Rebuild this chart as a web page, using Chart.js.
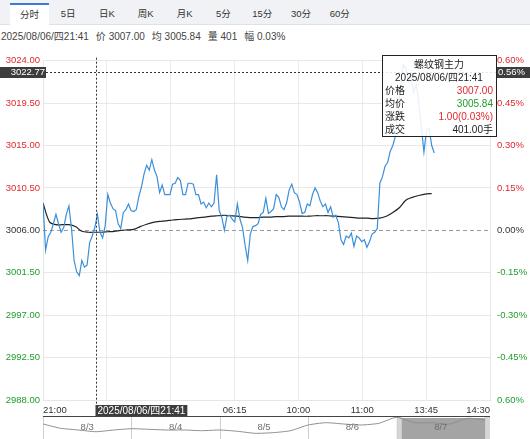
<!DOCTYPE html>
<html>
  <head>
    <meta charset="UTF-8" />
    <title>螺纹钢主力 分时</title>
    <script src="https://cdn.jsdelivr.net/npm/chart.js"></script>
    <style>
      body {
        margin: 0;
        font-family: "Liberation Sans", Arial, "Noto Sans CJK SC", sans-serif;
        background: #fff;
      }
      #wrap {
        position: relative;
        width: 530px;
        height: 439px;
        overflow: hidden;
      }
      #tabs {
        position: absolute;
        left: 0;
        top: 0;
        width: 530px;
        height: 25px;
        box-sizing: border-box;
        padding-left: 10px;
        background: #f0f2f5;
        border-bottom: 1px solid #dde1e8;
        display: flex;
        align-items: flex-start;
      }
      #tabs span {
        width: 38.8px;
        margin-top: 3px;
        text-align: center;
        font-size: 9.5px;
        line-height: 22px;
        color: #333;
      }
      #tabs span.on {
        background: #fff;
        border-top: 2px solid #3b7bd4;
        line-height: 20px;
        height: 21px;
      }
      #info {
        position: absolute;
        left: 1px;
        top: 30px;
        font-size: 10px;
        line-height: 14px;
        color: #444;
        white-space: nowrap;
      }
      #info span {
        margin-right: 7px;
      }
      #tip {
        position: absolute;
        left: 382px;
        top: 55px;
        width: 115px;
        height: 82px;
        box-sizing: border-box;
        border: 1px solid #222;
        background: rgba(255, 255, 255, 0.88);
        padding: 2px 3px 0 2px;
        font-size: 10px;
        line-height: 13px;
        color: #222;
      }
      #tip .c {
        text-align: center;
      }
      #tip .r {
        display: flex;
        justify-content: space-between;
      }
      canvas {
        position: absolute;
        left: 0;
      }
    </style>
  </head>
  <body>
    <div id="wrap">
      <div id="tabs">
        <span class="on">分时</span><span>5日</span><span>日K</span><span>周K</span><span>月K</span
        ><span>5分</span><span>15分</span><span>30分</span><span>60分</span>
      </div>
      <div id="info">
        <span>2025/08/06/四21:41</span><span>价 3007.00</span><span>均 3005.84</span><span>量 401</span
        ><span>幅 0.03%</span>
      </div>
      <canvas id="main" width="530" height="370" style="top: 48px"></canvas>
      <canvas id="nav" width="530" height="23" style="top: 416px"></canvas>
      <div id="tip">
        <div class="c">螺纹钢主力</div>
        <div class="c">2025/08/06/四21:41</div>
        <div class="r"><span>价格</span><span style="color: #e0282e">3007.00</span></div>
        <div class="r"><span>均价</span><span style="color: #1f9d2a">3005.84</span></div>
        <div class="r"><span>涨跌</span><span style="color: #e0282e">1.00(0.03%)</span></div>
        <div class="r"><span>成交</span><span>401.00手</span></div>
      </div>
    </div>
  </body>
  <script>
    // session: 345 trading minutes, axis split in 7 equal parts
    const SESSION_MINUTES = 345;
    const xLabels = ["21:00", "", "", "06:15", "10:00", "11:00", "13:45", "14:30"];

    // price every 2 minutes, average price every 5 minutes
    const PRICE_STEP = 2;
    const prices = [
      3008.9, 3003.9, 3005.3, 3005.8, 3006.7, 3007.7, 3006.7, 3005.8, 3006.3, 3007.7,
      3008.6, 3006.2, 3002.8, 3001.6, 3001.2, 3002.8, 3002.1, 3002.3, 3004.7, 3005.4,
      3006.3, 3007.7, 3005.8, 3005.2, 3006.5, 3009.8, 3008.9, 3008.3, 3008.1, 3006.7,
      3006.2, 3007.9, 3008.2, 3008.8, 3008.1, 3008.0, 3008.2, 3009.6, 3010.6, 3012.0,
      3012.9, 3012.4, 3013.5, 3012.4, 3011.7, 3010.0, 3010.8, 3009.8, 3009.8, 3009.8,
      3010.9, 3011.0, 3011.6, 3011.3, 3009.8, 3009.8, 3011.0, 3011.0, 3010.9, 3009.8,
      3009.8, 3008.8, 3009.0, 3008.4, 3008.9, 3008.5, 3008.9, 3011.9, 3008.1, 3007.4,
      3006.0, 3007.5, 3007.6, 3007.2, 3006.9, 3008.8, 3007.2, 3006.3, 3004.4, 3002.8,
      3005.6, 3006.4, 3006.5, 3006.7, 3007.7, 3007.9, 3009.4, 3007.8, 3008.0, 3008.3,
      3009.8, 3009.5, 3008.5, 3008.2, 3008.9, 3010.3, 3010.9, 3010.0, 3009.8, 3009.0,
      3007.8, 3007.9, 3008.8, 3008.6, 3009.8, 3010.5, 3010.0, 3009.1, 3008.5, 3008.8,
      3007.9, 3008.5, 3007.4, 3007.6, 3006.8, 3005.0, 3004.5, 3005.4, 3005.2, 3005.7,
      3004.3, 3005.4, 3005.2, 3004.8, 3005.0, 3004.2, 3004.8, 3005.6, 3005.8, 3006.2,
      3011.0, 3011.7, 3012.8, 3013.2, 3014.4, 3015.0, 3016.0, 3018.7, 3021.3, 3023.6,
      3023.2, 3021.8, 3022.4, 3020.6, 3021.5, 3019.6, 3017.0, 3014.3, 3016.6, 3016.8,
      3015.0, 3014.2,
    ];
    const AVG_STEP = 5;
    const avgPrices = [
      3008.9, 3006.9, 3006.6, 3006.6, 3006.6, 3006.4, 3005.9, 3005.8, 3005.8, 3005.8,
      3005.85, 3005.9, 3006.0, 3006.05, 3006.1, 3006.4, 3006.65, 3006.85, 3006.95, 3007.0,
      3007.1, 3007.15, 3007.2, 3007.25, 3007.35, 3007.4, 3007.5, 3007.55, 3007.6, 3007.55,
      3007.5, 3007.4, 3007.35, 3007.35, 3007.4, 3007.4, 3007.45, 3007.45, 3007.5, 3007.5,
      3007.5, 3007.5, 3007.55, 3007.55, 3007.55, 3007.5, 3007.45, 3007.4, 3007.35, 3007.3,
      3007.3, 3007.25, 3007.3, 3007.5, 3007.9, 3008.4, 3009.2, 3009.5, 3009.7, 3009.85,
      3009.9,
    ];

    const PREV_CLOSE = 3006;
    const priceTicks = [2988, 2992.5, 2997, 3001.5, 3006, 3010.5, 3015, 3019.5, 3024];
    const pctLabels = ["0.60%", "-0.45%", "-0.30%", "-0.15%", "0.00%", "0.15%", "0.30%", "0.45%", "0.60%"];

    // crosshair state
    const CROSS_MINUTE = 41;
    const CROSS_PRICE = 3022.77;
    const CROSS_TIME = "2025/08/06/四21:41";

    // navigator (5 days)
    const navDays = ["8/3", "8/4", "8/5", "8/6", "8/7"];
    const NAV_STEP = 0.2;
    const navPrices = [
      3014, 3005.4, 3002, 2998.6, 3002, 3004.6, 3003.4, 3002, 3002, 3000.6,
      3002, 2999.4, 2995.4, 2996.6, 3000.6, 3012, 3016.6, 3014, 3012, 3015.4,
      3027.4, 3016.6, 3016.6, 3014, 3025.4, 3022,
    ];
    const SELECT_FROM = 4;
    const SELECT_TO = 5;

    const RED = "#e0282e";
    const GREEN = "#1f9d2a";
    const FONT = '"Liberation Sans", Arial, "Noto Sans CJK SC", sans-serif';

    function sideColor(v) {
      if (v > PREV_CLOSE) return RED;
      if (v < PREV_CLOSE) return GREEN;
      return "#333";
    }

    const overlay = {
      id: "overlay",
      beforeDatasetsDraw(chart) {
        const { ctx, chartArea: a, scales } = chart;
        const py = Math.round(scales.y.getPixelForValue(PREV_CLOSE)) + 0.5;
        ctx.save();
        ctx.strokeStyle = "#9a9a9a";
        ctx.lineWidth = 1;
        ctx.setLineDash([4, 3]);
        ctx.beginPath();
        ctx.moveTo(a.left, py);
        ctx.lineTo(a.right, py);
        ctx.stroke();
        ctx.restore();
      },
      afterDraw(chart) {
        const { ctx, chartArea: a, scales } = chart;
        const cx = Math.round(scales.x.getPixelForValue(CROSS_MINUTE)) + 0.5;
        const cy = Math.round(scales.y.getPixelForValue(CROSS_PRICE)) + 0.5;
        ctx.save();
        ctx.strokeStyle = "#333";
        ctx.lineWidth = 1;
        ctx.setLineDash([2, 2]);
        ctx.beginPath();
        ctx.moveTo(cx, a.top - 3);
        ctx.lineTo(cx, a.bottom + 5);
        ctx.moveTo(a.left + 3, cy);
        ctx.lineTo(a.right + 6, cy);
        ctx.stroke();
        ctx.setLineDash([]);

        ctx.font = "9.5px " + FONT;
        ctx.textBaseline = "middle";
        // left price box
        ctx.fillStyle = "#3d3d3d";
        ctx.fillRect(0, cy - 5.5, a.left + 3, 11);
        ctx.fillStyle = "#fff";
        ctx.textAlign = "right";
        ctx.fillText(CROSS_PRICE.toFixed(2), a.left + 2, cy);
        // right percent box
        const pct = ((CROSS_PRICE - PREV_CLOSE) / PREV_CLOSE) * 100;
        ctx.fillStyle = "#3d3d3d";
        ctx.fillRect(a.right + 6, cy - 5.5, chart.width - a.right - 6, 11);
        ctx.fillStyle = "#fff";
        ctx.textAlign = "left";
        ctx.fillText(pct.toFixed(2) + "%", a.right + 8, cy);
        // bottom time box
        ctx.font = "10px " + FONT;
        const w = ctx.measureText(CROSS_TIME).width + 4;
        ctx.fillStyle = "#3d3d3d";
        ctx.fillRect(cx - 1, a.bottom + 5, w, 12);
        ctx.fillStyle = "#fff";
        ctx.fillText(CROSS_TIME, cx + 1, a.bottom + 11.5);
        ctx.restore();
      },
    };

    new Chart(document.getElementById("main"), {
      type: "line",
      data: {
        datasets: [
          {
            label: "价格",
            data: prices.map((v, i) => ({ x: i * PRICE_STEP, y: v })),
            borderColor: "#3b8fd9",
            borderWidth: 1.2,
            pointRadius: 0,
            tension: 0,
          },
          {
            label: "均价",
            data: avgPrices.map((v, i) => ({ x: i * AVG_STEP, y: v })),
            borderColor: "#222",
            borderWidth: 1.2,
            pointRadius: 0,
            tension: 0.3,
          },
        ],
      },
      options: {
        responsive: false,
        animation: false,
        events: [],
        layout: { padding: { top: 8, left: 0, right: 0, bottom: 0 } },
        plugins: { legend: { display: false }, tooltip: { enabled: false } },
        scales: {
          x: {
            type: "linear",
            min: 0,
            max: SESSION_MINUTES,
            afterBuildTicks: (s) => {
              s.ticks = xLabels.map((_, k) => ({ value: (SESSION_MINUTES / (xLabels.length - 1)) * k }));
            },
            afterFit: (s) => {
              s.height = 18;
            },
            ticks: {
              align: "inner",
              padding: 5,
              maxRotation: 0,
              autoSkip: false,
              color: "#333",
              font: { size: 9.5, family: FONT },
              callback: (v, i) => xLabels[i],
            },
            grid: { color: "#ececec", drawTicks: false },
            border: { color: "#e6e6e6" },
          },
          y: {
            position: "left",
            min: priceTicks[0],
            max: priceTicks[priceTicks.length - 1],
            afterBuildTicks: (s) => {
              s.ticks = priceTicks.map((v) => ({ value: v }));
            },
            afterFit: (s) => {
              s.width = 43;
            },
            ticks: {
              padding: 3,
              autoSkip: false,
              font: { size: 9.5, family: FONT },
              color: (c) => sideColor(c.tick.value),
              callback: (v) => v.toFixed(2),
            },
            grid: {
              drawTicks: false,
              color: (c) => (c.tick && c.tick.value === PREV_CLOSE ? "rgba(0,0,0,0)" : "#e8e8e8"),
            },
            border: { color: "#e6e6e6" },
          },
          y2: {
            position: "right",
            min: priceTicks[0],
            max: priceTicks[priceTicks.length - 1],
            afterBuildTicks: (s) => {
              s.ticks = priceTicks.map((v) => ({ value: v }));
            },
            afterFit: (s) => {
              s.width = 40;
            },
            ticks: {
              padding: 7,
              autoSkip: false,
              font: { size: 9.5, family: FONT },
              color: (c) => sideColor(c.tick.value),
              callback: (v, i) => pctLabels[i],
            },
            grid: { display: false, drawTicks: false },
            border: { color: "#e6e6e6" },
          },
        },
      },
      plugins: [overlay],
    });

    const navDecor = {
      id: "navDecor",
      beforeDatasetsDraw(chart) {
        const { ctx, chartArea: a, scales } = chart;
        const x = scales.x;
        ctx.save();
        // selected window
        const s0 = x.getPixelForValue(SELECT_FROM);
        const s1 = x.getPixelForValue(SELECT_TO);
        ctx.fillStyle = "#d6d6d6";
        ctx.fillRect(s0, a.top + 1, 5, a.bottom - a.top);
        ctx.fillRect(s1, a.top + 1, 5, a.bottom - a.top);
        ctx.fillStyle = "#a4a4a4";
        ctx.fillRect(s0 + 5, a.top + 2, s1 - s0 - 5, a.bottom - a.top);
        // day dividers
        ctx.strokeStyle = "#cfcfcf";
        ctx.lineWidth = 1;
        ctx.beginPath();
        for (let d = 0; d <= navDays.length; d++) {
          const px = Math.round(x.getPixelForValue(d)) + 0.5;
          ctx.moveTo(px, a.top);
          ctx.lineTo(px, a.bottom);
        }
        ctx.stroke();
        ctx.restore();
      },
      afterDatasetsDraw(chart) {
        const { ctx, chartArea: a, scales } = chart;
        const x = scales.x;
        ctx.save();
        ctx.font = "9.5px " + FONT;
        ctx.fillStyle = "#6f6f6f";
        ctx.textAlign = "center";
        ctx.textBaseline = "middle";
        navDays.forEach((d, i) => ctx.fillText(d, x.getPixelForValue(i + 0.5), 11));
        ctx.strokeStyle = "#444";
        ctx.lineWidth = 1;
        ctx.beginPath();
        ctx.moveTo(a.left, 0.5);
        ctx.lineTo(x.getPixelForValue(SELECT_TO) + 5, 0.5);
        ctx.stroke();
        ctx.restore();
      },
    };

    new Chart(document.getElementById("nav"), {
      type: "line",
      data: {
        datasets: [
          {
            data: navPrices.map((v, i) => ({ x: i * NAV_STEP, y: v })),
            borderColor: "#8e8e8e",
            borderWidth: 1,
            pointRadius: 0,
            tension: 0.2,
          },
        ],
      },
      options: {
        responsive: false,
        animation: false,
        events: [],
        layout: { padding: { left: 43, right: 45, top: 0, bottom: 0 } },
        plugins: { legend: { display: false }, tooltip: { enabled: false } },
        scales: {
          x: { type: "linear", min: 0, max: navDays.length, display: false },
          y: { min: 2984, max: 3030, display: false },
        },
      },
      plugins: [navDecor],
    });
  </script>
</html>
